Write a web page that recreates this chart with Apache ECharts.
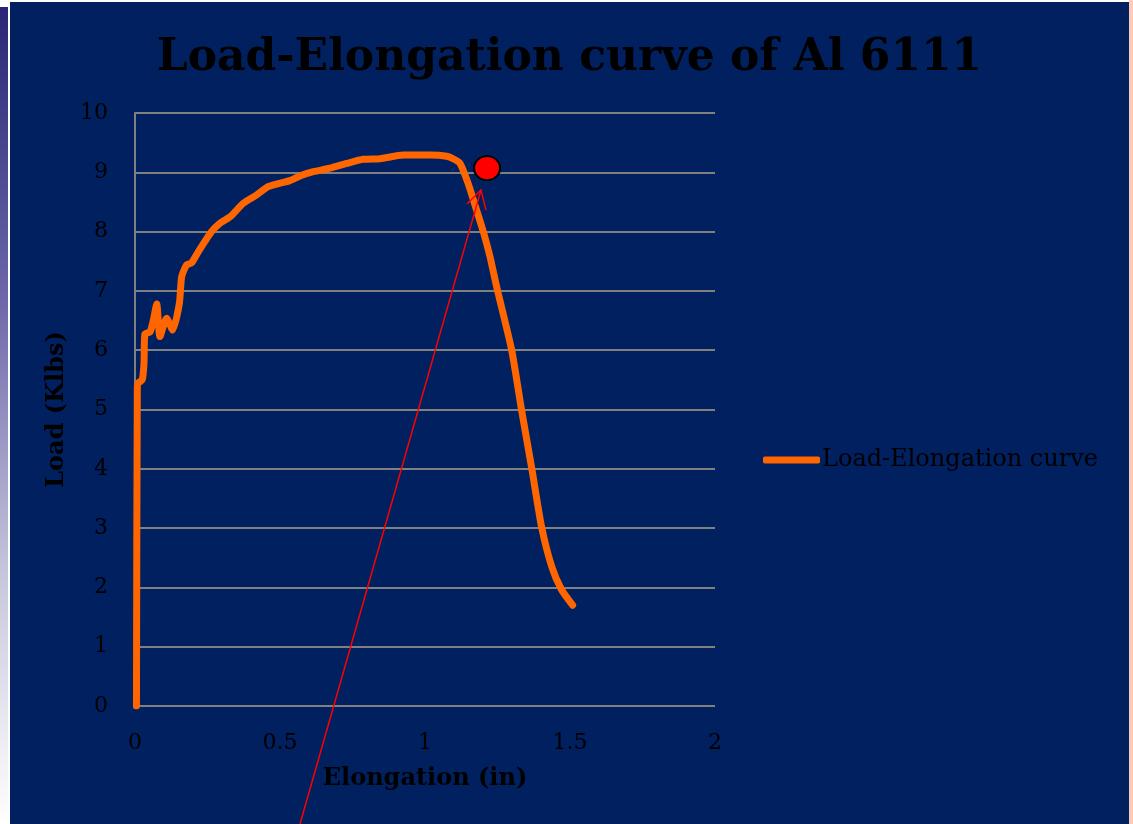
<!DOCTYPE html>
<html>
<head>
<meta charset="utf-8">
<script src="https://cdn.jsdelivr.net/npm/echarts@6/dist/echarts.min.js"></script>
<style>
  html, body { margin: 0; padding: 0; background: #ffffff; width: 1133px; height: 824px; overflow: hidden; }
  #strip { position: absolute; left: 0; top: 6px; width: 8px; height: 818px;
           background: linear-gradient(to bottom, #2a2675 0%, #6a66a8 35%, #c8c8dc 70%, #ffffff 100%);
           border-top: 1px solid #ffffff; }
  #edge { position: absolute; left: 1129px; top: 0; width: 4px; height: 824px; background: #ffcbb8; }
  #chart { position: absolute; left: 10px; top: 2px; width: 1119px; height: 822px; }
</style>
</head>
<body>
<div id="strip"></div>
<div id="edge"></div>
<div id="chart"></div>
<script>
// Elongation (in) and load (Klbs) sampled along the tensile test record
const elongation = [0.005, 0.008, 0.012, 0.025, 0.031, 0.034, 0.052, 0.063, 0.075, 0.086, 0.109, 0.13, 0.153,
  0.161, 0.178, 0.195, 0.218, 0.264, 0.293, 0.328, 0.374, 0.42, 0.46, 0.534, 0.575, 0.615, 0.672,
  0.73, 0.787, 0.845, 0.925, 1.017, 1.075, 1.1, 1.121, 1.149, 1.178, 1.201, 1.224, 1.247, 1.299,
  1.333, 1.368, 1.402, 1.437, 1.471, 1.509];
const load = [0, 5.4, 5.45, 5.5, 5.78, 6.27, 6.31, 6.5, 6.78, 6.23, 6.54, 6.34, 6.79,
  7.24, 7.44, 7.47, 7.66, 8.0, 8.14, 8.25, 8.48, 8.62, 8.76, 8.86, 8.95, 9.01, 9.07,
  9.15, 9.22, 9.23, 9.29, 9.29, 9.27, 9.22, 9.15, 8.81, 8.36, 8.0, 7.58, 7.07, 6.0,
  4.99, 4.01, 3.02, 2.35, 1.96, 1.70];

// Highlighted point on the descending branch and the arrow pointing at it
const markedPoint = [1.214, 9.07];
const arrowTip = [1.193, 8.70];
const arrowTail = [0.569, -1.99];

const xTicks = ['0', '0.5', '1', '1.5', '2'];
const seriesName = 'Load-Elongation curve';
const titleText = 'Load-Elongation curve of Al 6111';

const serif = 'DejaVu Serif';
const chart = echarts.init(document.getElementById('chart'), null, { renderer: 'canvas' });

chart.setOption({
  backgroundColor: '#002060',
  animation: false,
  title: {
    text: titleText,
    left: 'center',
    top: 30,
    textStyle: { fontFamily: serif, fontWeight: 'bold', fontSize: 44, color: '#000000' }
  },
  legend: {
    data: [{ name: seriesName, icon: 'roundRect' }],
    left: 748,
    top: 441,
    itemWidth: 57,
    itemHeight: 7,
    itemStyle: { color: '#ff6600' },
    textStyle: { fontFamily: serif, fontSize: 24, color: '#000000', padding: [0, 0, 0, -3] }
  },
  grid: { left: 125, right: 414, top: 111, bottom: 118, containLabel: false },
  xAxis: {
    type: 'value',
    min: 0, max: 2, interval: 0.5,
    name: 'Elongation (in)',
    nameLocation: 'middle',
    nameGap: 61,
    nameTextStyle: { fontFamily: serif, fontWeight: 'bold', fontSize: 24, color: '#000000' },
    axisLine: { show: false },
    axisTick: { show: false },
    splitLine: { show: false },
    axisLabel: {
      margin: 26, fontFamily: serif, fontSize: 22, color: '#000000',
      formatter: (v) => xTicks[Math.round(v / 0.5)]
    }
  },
  yAxis: {
    type: 'value',
    min: 0, max: 10, interval: 1,
    name: 'Load (Klbs)',
    nameLocation: 'middle',
    nameGap: 62,
    nameTextStyle: { fontFamily: serif, fontWeight: 'bold', fontSize: 24, color: '#000000' },
    axisLine: { show: true, lineStyle: { color: '#808080', width: 2 } },
    axisTick: { show: false },
    splitLine: { show: true, lineStyle: { color: '#808080', width: 2 } },
    axisLabel: { margin: 27, fontFamily: serif, fontSize: 22, color: '#000000', padding: [4, 0, 0, 0] }
  },
  series: [
    {
      name: seriesName,
      type: 'line',
      data: elongation.map((x, i) => [x, load[i]]),
      symbol: 'none',
      smooth: 0.2,
      lineStyle: { color: '#ff6600', width: 7, cap: 'round', join: 'round' },
      itemStyle: { color: '#ff6600' },
      z: 3
    },
    {
      name: 'marker',
      type: 'scatter',
      data: [markedPoint],
      symbol: 'circle',
      symbolSize: [26, 24],
      itemStyle: { color: '#ff0000', borderColor: '#000000', borderWidth: 2, opacity: 1 },
      z: 5
    }
  ]
});

// Arrow drawn from data coordinates converted to pixels
const tip = chart.convertToPixel({ gridIndex: 0 }, arrowTip);
const tail = chart.convertToPixel({ gridIndex: 0 }, arrowTail);
chart.setOption({
  graphic: [
    {
      type: 'line', z: 10, silent: true,
      shape: { x1: tail[0], y1: tail[1], x2: tip[0], y2: tip[1] },
      style: { stroke: '#ff0000', lineWidth: 1.5 }
    },
    {
      type: 'polyline', z: 10, silent: true,
      shape: { points: [[tip[0] - 14, tip[1] + 14], [tip[0], tip[1]], [tip[0] + 5, tip[1] + 20]] },
      style: { stroke: '#ff0000', lineWidth: 1.5, fill: null }
    }
  ]
});
</script>
</body>
</html>
